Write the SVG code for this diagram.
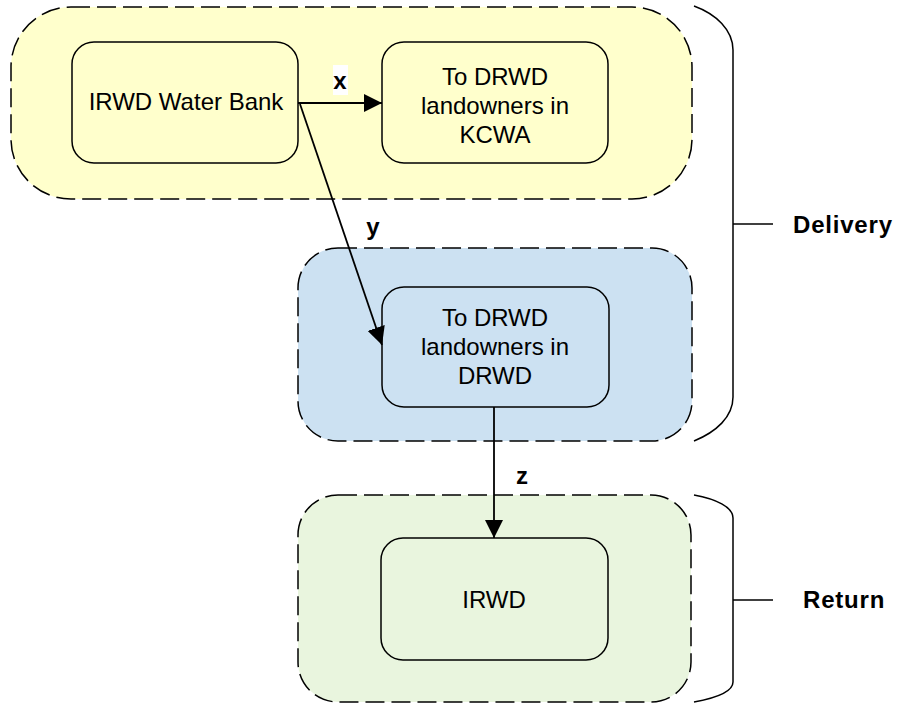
<svg xmlns="http://www.w3.org/2000/svg" width="911" height="704" viewBox="0 0 911 704">
<style>
.grp{stroke:#000;stroke-width:1.5;stroke-dasharray:19 7}
.box{stroke:#000;stroke-width:1.5}
.t{font-family:"Liberation Sans",Arial,sans-serif;font-size:24px;fill:#000;text-anchor:middle}
.lb{font-family:"Liberation Sans",Arial,sans-serif;font-size:24px;font-weight:bold;fill:#000}
.c{stroke:#000;stroke-width:1.8;fill:none}
.br{stroke:#000;stroke-width:1.5;fill:none}
</style>
<defs>
<marker id="ah" viewBox="0 0 18 18" refX="18" refY="9" markerWidth="18" markerHeight="18" markerUnits="userSpaceOnUse" orient="auto">
<path d="M0,0 L18,9 L0,18 z" fill="#000"/>
</marker>
</defs>
<rect width="911" height="704" fill="#fff"/>
<g id="group-kcwa">
<rect class="grp" x="11" y="7" width="681" height="192" rx="60" fill="#FFFFCC"/>
</g>
<g id="group-drwd">
<rect class="grp" x="298" y="248" width="394" height="193" rx="40" fill="#CCE1F2"/>
</g>
<g id="group-return">
<rect class="grp" x="298" y="495" width="393" height="207" rx="40" fill="#E9F5DE"/>
</g>
<g id="node-bank">
<rect class="box" x="72" y="42" width="226" height="121" rx="22" fill="#FFFFCC"/>
<text class="t" x="186" y="110">IRWD Water Bank</text>
</g>
<g id="node-kcwa">
<rect class="box" x="382" y="42" width="226" height="121" rx="22" fill="#FFFFCC"/>
<text class="t" x="495" y="85">To DRWD</text>
<text class="t" x="495" y="114">landowners in</text>
<text class="t" x="495" y="143">KCWA</text>
</g>
<g id="node-drwd">
<rect class="box" x="382" y="287" width="227" height="120" rx="22" fill="#CCE1F2"/>
<text class="t" x="495" y="326">To DRWD</text>
<text class="t" x="495" y="355">landowners in</text>
<text class="t" x="495" y="384">DRWD</text>
</g>
<g id="node-irwd">
<rect class="box" x="381" y="538" width="227" height="122" rx="22" fill="#E9F5DE"/>
<text class="t" x="494" y="608">IRWD</text>
</g>
<g id="connectors">
<path class="c" d="M298,103 L382,103" marker-end="url(#ah)"/>
<path class="c" d="M300,104 L382,345" marker-end="url(#ah)"/>
<path class="c" d="M494,407 L494,538" marker-end="url(#ah)"/>
<rect x="333" y="65" width="15" height="30" fill="#fff"/>
<text class="lb" x="340" y="89" text-anchor="middle">x</text>
<text class="lb" x="373" y="235" text-anchor="middle">y</text>
<text class="lb" x="522" y="484" text-anchor="middle">z</text>
</g>
<g id="brace-delivery">
<path class="br" d="M694,6 C716,14 733,30 733,50 L733,397 C733,417 716,432 694,441"/>
<path class="br" d="M733,224 L773,224"/>
<text class="lb" x="793" y="233" letter-spacing="0.8">Delivery</text>
</g>
<g id="brace-return">
<path class="br" d="M694,495 C716,499 733,507 733,518 L733,682 C733,692 716,698 694,702"/>
<path class="br" d="M733,600 L773,600"/>
<text class="lb" x="803" y="608" letter-spacing="0.8">Return</text>
</g>
</svg>
